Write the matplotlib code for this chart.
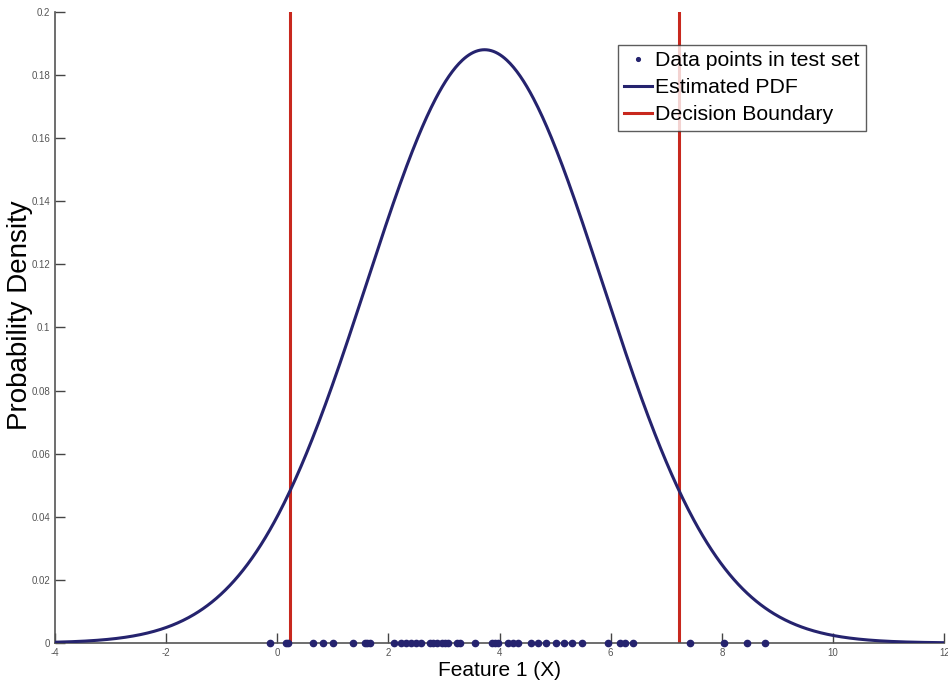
import numpy as np
import matplotlib
matplotlib.use("Agg")
import matplotlib.pyplot as plt

plt.rcParams['font.family'] = ['Liberation Sans', 'DejaVu Sans']

# Data points in the test set (x positions on the feature axis, y = 0)
data_x = [-0.13, 0.15, 0.20, 0.64, 0.82, 1.00, 1.36, 1.57, 1.62, 1.66,
          2.10, 2.22, 2.31, 2.40, 2.49, 2.58, 2.74, 2.81, 2.88, 2.96,
          3.02, 3.08, 3.23, 3.29, 3.56, 3.86, 3.92, 3.98,
          4.16, 4.25, 4.33, 4.57, 4.69, 4.83, 5.01, 5.15, 5.30, 5.49,
          5.95, 6.17, 6.26, 6.40, 7.42, 8.03, 8.46, 8.78]

# Estimated Gaussian PDF parameters
pdf_mean = 3.73
pdf_sigma = 2.122

# Decision boundaries
boundaries = [0.23, 7.23]

x_ticks = [-4, -2, 0, 2, 4, 6, 8, 10, 12]
y_ticks = [0, 0.02, 0.04, 0.06, 0.08, 0.1, 0.12, 0.14, 0.16, 0.18, 0.2]
y_tick_labels = ['0', '0.02', '0.04', '0.06', '0.08', '0.1', '0.12', '0.14', '0.16', '0.18', '0.2']

navy = '#25236e'
red = '#c8281e'

fig = plt.figure(figsize=(9.48, 6.86), dpi=100)
ax = fig.add_axes([0.058, 0.0627, 0.938, 0.92])

xs = np.linspace(-4, 12, 800)
pdf = np.exp(-(xs - pdf_mean) ** 2 / (2 * pdf_sigma ** 2)) / (pdf_sigma * np.sqrt(2 * np.pi))

ax.plot(data_x, np.zeros(len(data_x)), 'o', color=navy, markersize=4.5,
        label='Data points in test set', zorder=4, clip_on=False)
ax.plot(xs, pdf, color=navy, lw=2.2, label='Estimated PDF', zorder=3)
for i, b in enumerate(boundaries):
    ax.axvline(b, color=red, lw=2.2, label='Decision Boundary' if i == 0 else None, zorder=2)

ax.set_xlim(-4, 12)
ax.set_ylim(0, 0.2)
ax.set_xticks(x_ticks)
ax.set_xticklabels([str(t) for t in x_ticks])
ax.set_yticks(y_ticks)
ax.set_yticklabels(y_tick_labels)
ax.tick_params(direction='in', length=7, width=1, labelsize=7, colors='#444444',
               labelcolor='#555555')
ax.spines['top'].set_visible(False)
ax.spines['right'].set_visible(False)
for s in ['left', 'bottom']:
    ax.spines[s].set_color('#555555')
    ax.spines[s].set_linewidth(1.2)

ax.set_xlabel('Feature 1 (X)', fontsize=15, labelpad=2)
ax.set_ylabel('Probability Density', fontsize=20)
ax.yaxis.set_label_coords(-0.025, 0.52)

leg = ax.legend(loc='upper right', bbox_to_anchor=(0.912, 0.948), fontsize=15.3,
                handlelength=1.3, handletextpad=0.15, borderpad=0.3, labelspacing=0.38,
                borderaxespad=0, fancybox=False, frameon=True, markerscale=0.6)
leg.get_frame().set_edgecolor('#333333')
leg.get_frame().set_linewidth(1.0)

fig.savefig('out.png', dpi=100)
